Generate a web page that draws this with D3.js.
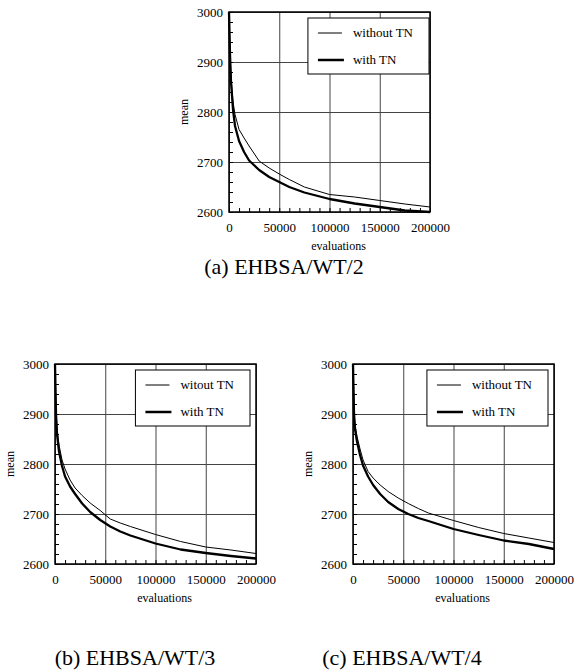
<!DOCTYPE html>
<html>
<head>
<meta charset="utf-8">
<script src="https://cdn.jsdelivr.net/npm/d3@7"></script>
<style>
  body { margin: 0; background: #fff; }
  svg { display: block; }
</style>
</head>
<body>
<div id="chart"></div>
<script>
// Axis ticks shared by the three panels
const xTicks = [0, 50000, 100000, 150000, 200000];
const yTicks = [2600, 2700, 2800, 2900, 3000];

// (a) EHBSA/WT/2
const evalsA = [0, 1000, 2000, 4000, 6000, 10000, 15000, 20000, 30000, 40000, 50000, 60000, 75000, 100000, 125000, 150000, 175000, 200000];
const withoutA = [3000, 2920, 2870, 2820, 2795, 2765, 2748, 2732, 2702, 2688, 2676, 2665, 2650, 2635, 2630, 2623, 2616, 2610];
const withA = [3000, 2915, 2860, 2805, 2772, 2742, 2720, 2703, 2684, 2670, 2660, 2650, 2639, 2626, 2617, 2610, 2603, 2600];

// (b) EHBSA/WT/3
const evalsB = [0, 1000, 2000, 4000, 7000, 10000, 15000, 20000, 27000, 35000, 45000, 55000, 65000, 75000, 100000, 125000, 150000, 175000, 200000];
const withoutB = [3000, 2910, 2870, 2838, 2808, 2790, 2768, 2752, 2737, 2722, 2707, 2690, 2682, 2675, 2659, 2645, 2634, 2628, 2621];
const withB = [3000, 2900, 2860, 2825, 2796, 2775, 2755, 2740, 2721, 2704, 2688, 2675, 2665, 2657, 2641, 2629, 2622, 2616, 2611];

// (c) EHBSA/WT/4
const evalsC = [0, 1000, 2000, 4000, 7000, 10000, 15000, 20000, 27000, 35000, 45000, 55000, 65000, 75000, 100000, 125000, 150000, 175000, 200000];
const withoutC = [3000, 2910, 2878, 2855, 2830, 2808, 2785, 2772, 2758, 2745, 2732, 2721, 2711, 2702, 2687, 2673, 2661, 2652, 2643];
const withC = [3000, 2900, 2870, 2845, 2818, 2797, 2775, 2758, 2740, 2724, 2710, 2700, 2692, 2686, 2670, 2658, 2647, 2640, 2630];

const panels = [
  { left: 229, top: 12, evals: evalsA, without: withoutA, withTN: withA,
    label0: 'without TN', caption: '(a) EHBSA/WT/2', capX: 284, capY: 274, legRight: 1 },
  { left: 55, top: 364, evals: evalsB, without: withoutB, withTN: withB,
    label0: 'witout TN', caption: '(b) EHBSA/WT/3', capX: 135, capY: 665, legRight: 6 },
  { left: 353, top: 364, evals: evalsC, without: withoutC, withTN: withC,
    label0: 'without TN', caption: '(c) EHBSA/WT/4', capX: 402, capY: 665, legRight: 6 }
];

const W = 574, H = 672;
const pw = 201, ph = 200;
const serif = '"Liberation Serif", "Times New Roman", Times, serif';

const svg = d3.select('#chart').append('svg')
  .attr('width', W)
  .attr('height', H)
  .attr('font-family', serif);

panels.forEach(p => drawPanel(p));

function drawPanel(p) {
  const g = svg.append('g').attr('transform', `translate(${p.left},${p.top})`);

  const x = d3.scaleLinear().domain([0, 200000]).range([0, pw]);
  const y = d3.scaleLinear().domain([2600, 3000]).range([ph, 0]);

  // grid lines at major ticks
  g.append('g')
    .attr('transform', `translate(0,${ph})`)
    .call(d3.axisBottom(x).tickValues(xTicks).tickSize(-ph).tickFormat(''))
    .call(s => s.select('.domain').remove())
    .selectAll('line').attr('stroke', '#444');
  g.append('g')
    .call(d3.axisLeft(y).tickValues(yTicks).tickSize(-pw).tickFormat(''))
    .call(s => s.select('.domain').remove())
    .selectAll('line').attr('stroke', '#444');

  // minor ticks, inside
  g.append('g')
    .attr('transform', `translate(0,${ph})`)
    .call(d3.axisBottom(x).tickValues(d3.range(0, 200001, 10000)).tickSize(-4).tickFormat(''))
    .call(s => s.select('.domain').remove())
    .selectAll('line').attr('stroke', '#000');
  g.append('g')
    .call(d3.axisLeft(y).tickValues(d3.range(2600, 3001, 20)).tickSize(-4).tickFormat(''))
    .call(s => s.select('.domain').remove())
    .selectAll('line').attr('stroke', '#000');

  // tick labels
  const xl = g.append('g')
    .attr('transform', `translate(0,${ph})`)
    .call(d3.axisBottom(x).tickValues(xTicks).tickSize(0).tickPadding(11).tickFormat(d3.format('d')));
  xl.select('.domain').remove();
  xl.attr('font-family', serif).attr('font-size', 13);
  xl.selectAll('text').attr('fill', '#000');

  const yl = g.append('g')
    .call(d3.axisLeft(y).tickValues(yTicks).tickSize(0).tickPadding(6).tickFormat(d3.format('d')));
  yl.select('.domain').remove();
  yl.attr('font-family', serif).attr('font-size', 13);
  yl.selectAll('text').attr('fill', '#000');

  // axis titles
  g.append('text')
    .attr('x', pw / 2 + 9)
    .attr('y', ph + 38)
    .attr('text-anchor', 'middle')
    .attr('font-size', 12)
    .text('evaluations');
  g.append('text')
    .attr('transform', `translate(-41,${ph / 2}) rotate(-90)`)
    .attr('text-anchor', 'middle')
    .attr('font-size', 12)
    .text('mean');

  // series
  const line = d3.line()
    .x((d, i) => x(p.evals[i]))
    .y(d => y(d));
  g.append('path')
    .datum(p.without)
    .attr('fill', 'none')
    .attr('stroke', '#000')
    .attr('stroke-width', 1)
    .attr('stroke-linejoin', 'round')
    .attr('d', line);
  g.append('path')
    .datum(p.withTN)
    .attr('fill', 'none')
    .attr('stroke', '#000')
    .attr('stroke-width', 2.3)
    .attr('stroke-linejoin', 'round')
    .attr('d', line);

  // frame
  g.append('rect')
    .attr('width', pw)
    .attr('height', ph)
    .attr('fill', 'none')
    .attr('stroke', '#000')
    .attr('stroke-width', 1.5);

  // legend
  const leg = g.append('g');
  const t0 = leg.append('text').attr('font-size', 13).attr('dy', '0.33em').text(p.label0);
  const t1 = leg.append('text').attr('font-size', 13).attr('dy', '0.33em').text('with TN');
  const tw = Math.max(t0.node().getComputedTextLength(), t1.node().getComputedTextLength());
  const lw = 45 + tw + 16;
  const lx = pw - p.legRight - lw;
  const ly = 6;
  leg.insert('rect', 'text')
    .attr('x', lx).attr('y', ly)
    .attr('width', lw).attr('height', 56)
    .attr('fill', '#fff')
    .attr('stroke', '#000')
    .attr('stroke-width', 1);
  t0.attr('x', lx + 45).attr('y', ly + 15);
  t1.attr('x', lx + 45).attr('y', ly + 42);
  leg.append('line')
    .attr('x1', lx + 10).attr('x2', lx + 34)
    .attr('y1', ly + 15).attr('y2', ly + 15)
    .attr('stroke', '#000').attr('stroke-width', 1);
  leg.append('line')
    .attr('x1', lx + 10).attr('x2', lx + 36)
    .attr('y1', ly + 42).attr('y2', ly + 42)
    .attr('stroke', '#000').attr('stroke-width', 2.5);

  // caption
  svg.append('text')
    .attr('x', p.capX)
    .attr('y', p.capY)
    .attr('text-anchor', 'middle')
    .attr('font-size', 22)
    .text(p.caption);
}
</script>
</body>
</html>
